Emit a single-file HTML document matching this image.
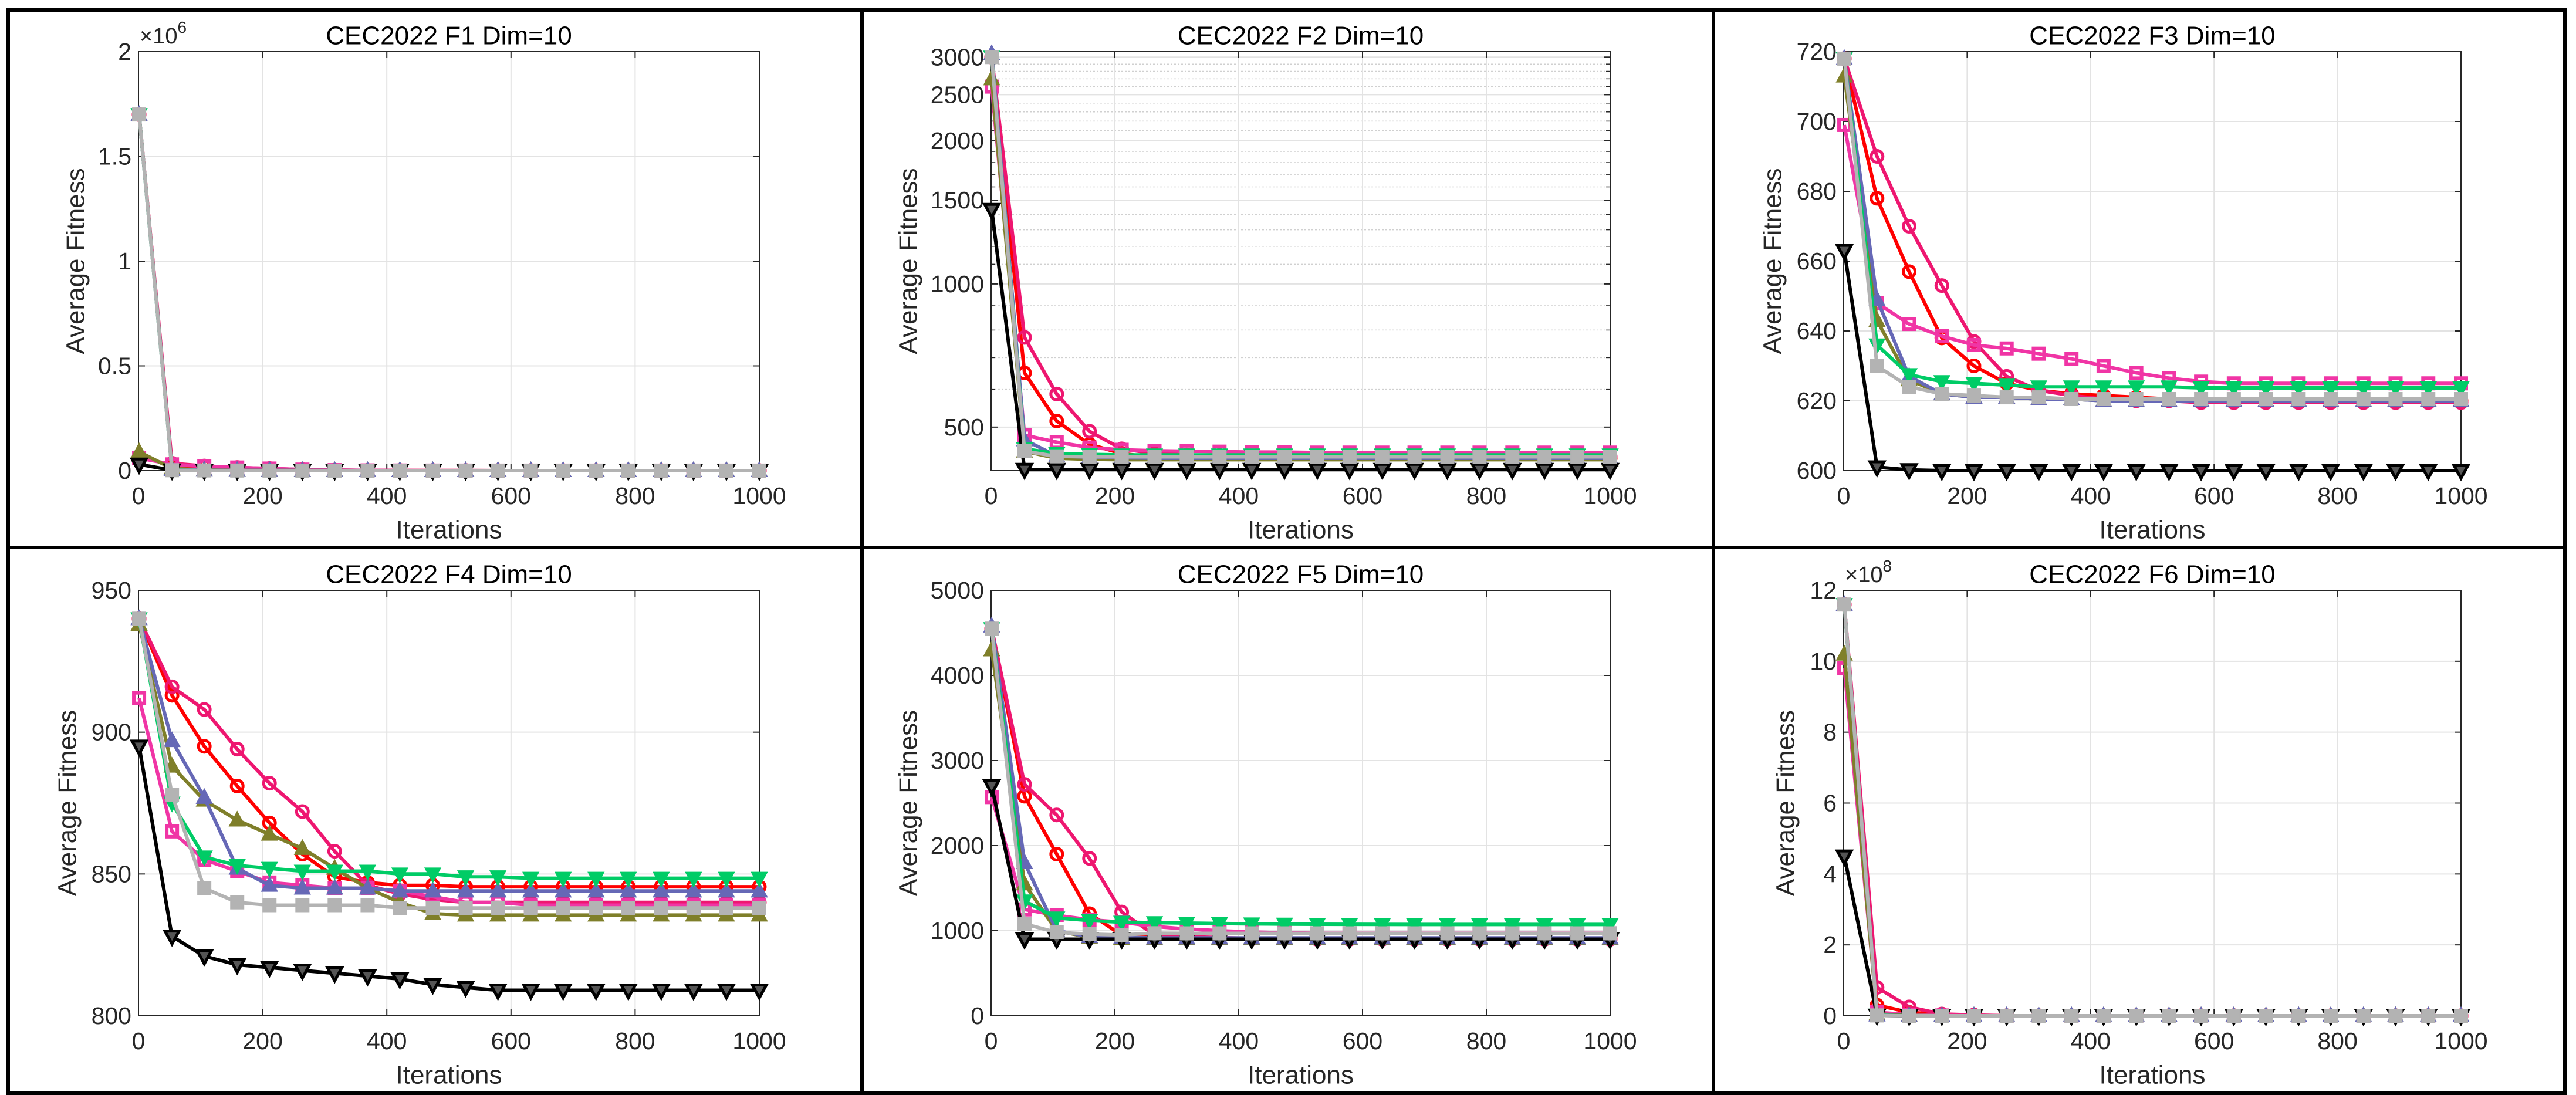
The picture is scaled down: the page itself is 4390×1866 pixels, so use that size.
<!DOCTYPE html>
<html><head><meta charset="utf-8"><title>CEC2022 convergence curves</title>
<style>
html,body{margin:0;padding:0;background:#fff;}
svg{display:block;}
text{font-family:"Liberation Sans",Arial,sans-serif;}
</style></head>
<body>
<svg id="fig" xmlns="http://www.w3.org/2000/svg" width="4390" height="1866" viewBox="0 0 4390 1866">
<rect x="0" y="0" width="4390" height="1866" fill="#fff"/>
</svg>
<script>
// ---- data ----
const iterations = [1,54,106,159,211,264,316,369,421,474,527,579,632,684,737,789,842,894,947,1000];
const xTicks = [0,200,400,600,800,1000];
const seriesNames = ['red-circle','crimson-circle','pink-square','olive-triangle','blue-triangle','green-down-triangle','black-down-triangle','gray-square'];

// F1
const F1_red     = [1700000,25000,18000,12000,8000,4000,2000,1000,500,300,200,100,100,100,100,100,100,100,100,100];
const F1_crimson = [1700000,35000,22000,15000,10000,5000,2500,1200,600,300,200,100,100,100,100,100,100,100,100,100];
const F1_pink    = [60000,30000,20000,15000,10000,5000,2500,1200,600,300,200,100,100,100,100,100,100,100,100,100];
const F1_olive   = [90000,10000,3000,1000,500,300,200,100,100,100,100,100,100,100,100,100,100,100,100,100];
const F1_blue    = [1700000,5000,2000,1000,500,300,200,100,100,100,100,100,100,100,100,100,100,100,100,100];
const F1_green   = [1700000,3000,1000,500,300,200,100,100,100,100,100,100,100,100,100,100,100,100,100,100];
const F1_black   = [30000,2000,1000,500,300,200,100,100,100,100,100,100,100,100,100,100,100,100,100,100];
const F1_gray    = [1700000,2000,1000,500,300,200,100,100,100,100,100,100,100,100,100,100,100,100,100,100];
const F1_ticks = [0,500000,1000000,1500000,2000000];
const F1_tickLabels = ['0','0.5','1','1.5','2'];

// F2 (log scale)
const F2_red     = [3000,650,515,460,440,432,430,430,430,430,430,430,430,430,430,430,430,430,430,430];
const F2_crimson = [3000,772,587,490,450,440,437,436,435,435,434,434,434,434,434,434,434,434,434,434];
const F2_pink    = [2600,481,465,453,448,446,445,444,443,443,442,442,442,442,442,442,442,442,442,442];
const F2_olive   = [2700,445,430,428,427,427,427,427,427,427,427,427,427,427,427,427,427,427,427,427];
const F2_blue    = [3050,470,435,432,431,430,430,430,430,430,430,430,430,430,430,430,430,430,430,430];
const F2_green   = [3000,450,440,438,437,437,437,437,437,437,437,437,437,437,437,437,437,437,437,437];
const F2_black   = [1433,407,407,407,407,407,407,407,407,407,407,407,407,407,407,407,407,407,407,407];
const F2_gray    = [3000,445,434,433,433,433,433,433,433,433,433,433,433,433,433,433,433,433,433,433];
const F2_ticks = [500,1000,1500,2000,2500,3000];
const F2_tickLabels = ['500','1000','1500','2000','2500','3000'];
const F2_minor = [600,700,800,900,1100,1200,1300,1400,1600,1700,1800,1900,2100,2200,2300,2400,2600,2700,2800,2900,3000];

// F3
const F3_red     = [718,678,657,638,630,625,623,622,621.5,621,620.5,620,620,620,620,620,620,620,620,620];
const F3_crimson = [718,690,670,653,637,627,623,621.5,620.5,620,620,619.5,619.5,619.5,619.5,619.5,619.5,619.5,619.5,619.5];
const F3_pink    = [699,648,642,638.5,636,635,633.5,632,630,628,626.5,625.5,625,625,625,625,625,625,625,625];
const F3_olive   = [713,643,626,622,621,621,620.5,620.5,620,620,620,620,620,620,620,620,620,620,620,620];
const F3_blue    = [718,649,627,622,621,621,620.5,620.5,620,620,620,620,620,620,620,620,620,620,620,620];
const F3_green   = [718,636,627.5,625.5,625,624.5,624,624,624,624,624,623.7,623.7,623.7,623.7,623.7,623.7,623.7,623.7,623.7];
const F3_black   = [663,601,600.2,600,600,600,600,600,600,600,600,600,600,600,600,600,600,600,600,600];
const F3_gray    = [718,630,624,622,621.5,621,621,620.5,620.5,620.5,620.5,620.5,620.5,620.5,620.5,620.5,620.5,620.5,620.5,620.5];
const F3_ticks = [600,620,640,660,680,700,720];
const F3_tickLabels = ['600','620','640','660','680','700','720'];

// F4
const F4_red     = [940,913,895,881,868,857,849,847,846,846,845.5,845.5,845.5,845.5,845.5,845.5,845.5,845.5,845.5,845.5];
const F4_crimson = [940,916,908,894,882,872,858,846,843,841,840,840,840,840,840,840,840,840,840,840];
const F4_pink    = [912,865,855,851,847,846,845,845,844,842,840,840,839,839,839,839,839,839,839,839];
const F4_olive   = [938,888,876,869,864,859,852,845,840,836,835.5,835.5,835.5,835.5,835.5,835.5,835.5,835.5,835.5,835.5];
const F4_blue    = [940,897,877,852,846,845,845,845,844,844,844,844,844,844,844,844,844,844,844,844];
const F4_green   = [940,875,856,853,852,851,851,851,850,850,849,849,848.5,848.5,848.5,848.5,848.5,848.5,848.5,848.5];
const F4_black   = [895,828,821,818,817,816,815,814,813,811,810,809,809,809,809,809,809,809,809,809];
const F4_gray    = [940,878,845,840,839,839,839,839,838,838,838,838,838,838,838,838,838,838,838,838];
const F4_ticks = [800,850,900,950];
const F4_tickLabels = ['800','850','900','950'];

// F5
const F5_red     = [4550,2580,1900,1200,950,920,910,906,906,906,906,906,906,906,906,906,906,906,906,906];
const F5_crimson = [4550,2720,2360,1850,1220,950,930,920,910,905,900,900,900,900,900,900,900,900,900,900];
const F5_pink    = [2570,1250,1180,1130,1100,1050,1020,1000,985,975,970,970,970,970,970,970,970,970,970,970];
const F5_olive   = [4300,1550,1000,920,910,905,905,905,905,905,905,905,905,905,905,905,905,905,905,905];
const F5_blue    = [4580,1800,1000,930,920,915,915,915,915,915,915,915,915,915,915,915,915,915,915,915];
const F5_green   = [4550,1350,1150,1120,1100,1095,1090,1085,1080,1078,1076,1075,1074,1073,1073,1073,1073,1073,1073,1073];
const F5_black   = [2700,900,900,900,900,900,900,900,900,900,900,900,900,900,900,900,900,900,900,900];
const F5_gray    = [4550,1080,980,960,950,970,969,969,969,969,969,969,969,969,969,969,969,969,969,969];
const F5_ticks = [0,1000,2000,3000,4000,5000];
const F5_tickLabels = ['0','1000','2000','3000','4000','5000'];

// F6
const F6_red     = [1160000000,30000000,10000000,3000000,1000000,0,0,0,0,0,0,0,0,0,0,0,0,0,0,0];
const F6_crimson = [1160000000,80000000,25000000,5000000,2000000,0,0,0,0,0,0,0,0,0,0,0,0,0,0,0];
const F6_pink    = [980000000,10000000,3000000,1000000,0,0,0,0,0,0,0,0,0,0,0,0,0,0,0,0];
const F6_olive   = [1020000000,5000000,1000000,0,0,0,0,0,0,0,0,0,0,0,0,0,0,0,0,0];
const F6_blue    = [1160000000,2000000,0,0,0,0,0,0,0,0,0,0,0,0,0,0,0,0,0,0];
const F6_green   = [1160000000,2000000,0,0,0,0,0,0,0,0,0,0,0,0,0,0,0,0,0,0];
const F6_black   = [450000000,1000000,0,0,0,0,0,0,0,0,0,0,0,0,0,0,0,0,0,0];
const F6_gray    = [1160000000,1000000,0,0,0,0,0,0,0,0,0,0,0,0,0,0,0,0,0,0];
const F6_ticks = [0,200000000,400000000,600000000,800000000,1000000000,1200000000];
const F6_tickLabels = ['0','2','4','6','8','10','12'];

// ---- styles / layout ----
const styles = [
  {c:'#ff0000', m:'circle'},
  {c:'#ee1670', m:'circle'},
  {c:'#f035a5', m:'square'},
  {c:'#7f7f2a', m:'up'},
  {c:'#6668b6', m:'up'},
  {c:'#00cc66', m:'down'},
  {c:'#000000', m:'downopen'},
  {c:'#b3b3b3', m:'squarefill'}
];
const panels = [
  {id:'f1', title:'CEC2022 F1 Dim=10', col:0, row:0, yMin:0, yMax:2000000, log:false, ticks:F1_ticks, labels:F1_tickLabels, exp:'6', ylx:129,
   series:[F1_red,F1_crimson,F1_pink,F1_olive,F1_blue,F1_green,F1_black,F1_gray]},
  {id:'f2', title:'CEC2022 F2 Dim=10', col:1, row:0, yMin:405, yMax:3080, log:true, ticks:F2_ticks, labels:F2_tickLabels, minor:F2_minor, ylx:1548,
   series:[F2_red,F2_crimson,F2_pink,F2_olive,F2_blue,F2_green,F2_black,F2_gray]},
  {id:'f3', title:'CEC2022 F3 Dim=10', col:2, row:0, yMin:600, yMax:720, log:false, ticks:F3_ticks, labels:F3_tickLabels, ylx:3021,
   series:[F3_red,F3_crimson,F3_pink,F3_olive,F3_blue,F3_green,F3_black,F3_gray]},
  {id:'f4', title:'CEC2022 F4 Dim=10', col:0, row:1, yMin:800, yMax:950, log:false, ticks:F4_ticks, labels:F4_tickLabels, ylx:115,
   series:[F4_red,F4_crimson,F4_pink,F4_olive,F4_blue,F4_green,F4_black,F4_gray]},
  {id:'f5', title:'CEC2022 F5 Dim=10', col:1, row:1, yMin:0, yMax:5000, log:false, ticks:F5_ticks, labels:F5_tickLabels, ylx:1548,
   series:[F5_red,F5_crimson,F5_pink,F5_olive,F5_blue,F5_green,F5_black,F5_gray]},
  {id:'f6', title:'CEC2022 F6 Dim=10', col:2, row:1, yMin:0, yMax:1200000000, log:false, ticks:F6_ticks, labels:F6_tickLabels, exp:'8', ylx:3043,
   series:[F6_red,F6_crimson,F6_pink,F6_olive,F6_blue,F6_green,F6_black,F6_gray]}
];
const plotL = [236,1689,3142], plotR = [1294,2744,4194];
const plotT = [88,1006], plotB = [802,1731];

const NS = 'http://www.w3.org/2000/svg';
const svg = document.getElementById('fig');
function mk(tag, attrs, parent){
  const e = document.createElementNS(NS, tag);
  for (const k in attrs) e.setAttribute(k, attrs[k]);
  (parent||svg).appendChild(e);
  return e;
}

panels.forEach(p => {
  const L = plotL[p.col], R = plotR[p.col], T = plotT[p.row], B = plotB[p.row];
  const g = mk('g', {});
  
  
  const xs = v => L + (v - 0) / 1000 * (R - L);
  const ys = p.log
    ? v => B - (Math.log10(v) - Math.log10(p.yMin)) / (Math.log10(p.yMax) - Math.log10(p.yMin)) * (B - T)
    : v => B - (v - p.yMin) / (p.yMax - p.yMin) * (B - T);

  if (p.minor) {
    p.minor.forEach(v => {
      const y = ys(v);
      const ln = mk('line', {x1:L, x2:R, y1:y, y2:y, stroke:'#d0d0d0', 'stroke-width':1.5, 'stroke-dasharray':'3 3'}, g);
      
      
      mk('line', {x1:L, x2:L+7, y1:y, y2:y, stroke:'#262626', 'stroke-width':1.5}, g);
      mk('line', {x1:R, x2:R-7, y1:y, y2:y, stroke:'#262626', 'stroke-width':1.5}, g);
    });
  }
  xTicks.forEach(v => {
    const x = xs(v);
    const ln = mk('line', {x1:x, x2:x, y1:T, y2:B, stroke:'#e3e3e3', 'stroke-width':2}, g);
    
    
  });
  p.ticks.forEach(v => {
    const y = ys(v);
    const ln = mk('line', {x1:L, x2:R, y1:y, y2:y, stroke:'#e3e3e3', 'stroke-width':2}, g);
    
    
  });
  xTicks.forEach(v => {
    const x = xs(v);
    mk('line', {x1:x, x2:x, y1:B, y2:B-11, stroke:'#262626', 'stroke-width':2}, g);
    mk('line', {x1:x, x2:x, y1:T, y2:T+11, stroke:'#262626', 'stroke-width':2}, g);
    const t = mk('text', {x:x, y:B+43, 'text-anchor':'middle', 'dominant-baseline':'central', 'font-size':41, fill:'#262626'}, g);
    t.textContent = String(v);
    
    
  });
  p.ticks.forEach((v, i) => {
    const y = ys(v);
    mk('line', {x1:L, x2:L+11, y1:y, y2:y, stroke:'#262626', 'stroke-width':2}, g);
    mk('line', {x1:R, x2:R-11, y1:y, y2:y, stroke:'#262626', 'stroke-width':2}, g);
    const t = mk('text', {x:L-12, y:y, 'text-anchor':'end', 'dominant-baseline':'central', 'font-size':41, fill:'#262626'}, g);
    t.textContent = p.labels[i];
    
    
  });
  if (p.exp) {
    const t = mk('text', {x:L+2, y:T-14, 'font-size':38, fill:'#262626'}, g);
    
    
    t.textContent = '\u00d710';
    const s = mk('tspan', {dy:-18, 'font-size':28}, t);
    s.textContent = p.exp;
  }
  const box = mk('rect', {x:L, y:T, width:R-L, height:B-T, fill:'none', stroke:'#262626', 'stroke-width':2}, g);
  
  

  p.series.forEach((vals, si) => {
    const st = styles[si];
    const sg = mk('g', {}, g);
    
    
    const pts = vals.map((v, i) => [xs(iterations[i]), ys(p.log ? Math.max(v, p.yMin) : v)]);
    const pl = mk('polyline', {points: pts.map(q => q[0].toFixed(1)+','+q[1].toFixed(1)).join(' '),
      fill:'none', stroke:st.c, 'stroke-width':6, 'stroke-linejoin':'round'}, sg);
    
    
    pts.forEach(q => {
      const [x, y] = q;
      let m;
      if (st.m === 'circle') {
        m = mk('circle', {cx:x, cy:y, r:10, fill:'none', stroke:st.c, 'stroke-width':5}, sg);
      } else if (st.m === 'square') {
        m = mk('rect', {x:x-9, y:y-9, width:18, height:18, fill:'none', stroke:st.c, 'stroke-width':6}, sg);
      } else if (st.m === 'squarefill') {
        m = mk('rect', {x:x-11, y:y-11, width:22, height:22, fill:st.c, stroke:st.c, 'stroke-width':2}, sg);
      } else if (st.m === 'up') {
        m = mk('polygon', {points:`${x},${y-14} ${x-13},${y+10} ${x+13},${y+10}`, fill:st.c, stroke:st.c, 'stroke-width':2}, sg);
      } else if (st.m === 'down') {
        m = mk('polygon', {points:`${x},${y+14} ${x-13},${y-10} ${x+13},${y-10}`, fill:st.c, stroke:st.c, 'stroke-width':2}, sg);
      } else {
        m = mk('polygon', {points:`${x},${y+13} ${x-12},${y-9} ${x+12},${y-9}`, fill:'#555', stroke:st.c, 'stroke-width':5}, sg);
      }
      
      
    });
  });

  const cx = (L + R) / 2;
  const tt = mk('text', {x:cx, y:T-27, 'text-anchor':'middle', 'dominant-baseline':'central', 'font-size':44, fill:'#000'}, g);
  tt.textContent = p.title;
  
  
  const xl = mk('text', {x:cx, y:B+101, 'text-anchor':'middle', 'dominant-baseline':'central', 'font-size':44, fill:'#262626'}, g);
  xl.textContent = 'Iterations';
  
  
  const cy = (T + B) / 2;
  const yl = mk('text', {x:p.ylx, y:cy, 'text-anchor':'middle', 'dominant-baseline':'central', 'font-size':44, fill:'#262626', transform:`rotate(-90 ${p.ylx} ${cy})`}, g);
  yl.textContent = 'Average Fitness';
  
  
});

const frame = mk('g', {});


mk('rect', {x:14, y:17, width:4357, height:1846, fill:'none', stroke:'#000', 'stroke-width':6}, frame);
mk('line', {x1:1469, x2:1469, y1:17, y2:1863, stroke:'#000', 'stroke-width':6}, frame);
mk('line', {x1:2920, x2:2920, y1:17, y2:1863, stroke:'#000', 'stroke-width':6}, frame);
mk('line', {x1:14, x2:4371, y1:933, y2:933, stroke:'#000', 'stroke-width':6}, frame);
</script>
</body></html>
